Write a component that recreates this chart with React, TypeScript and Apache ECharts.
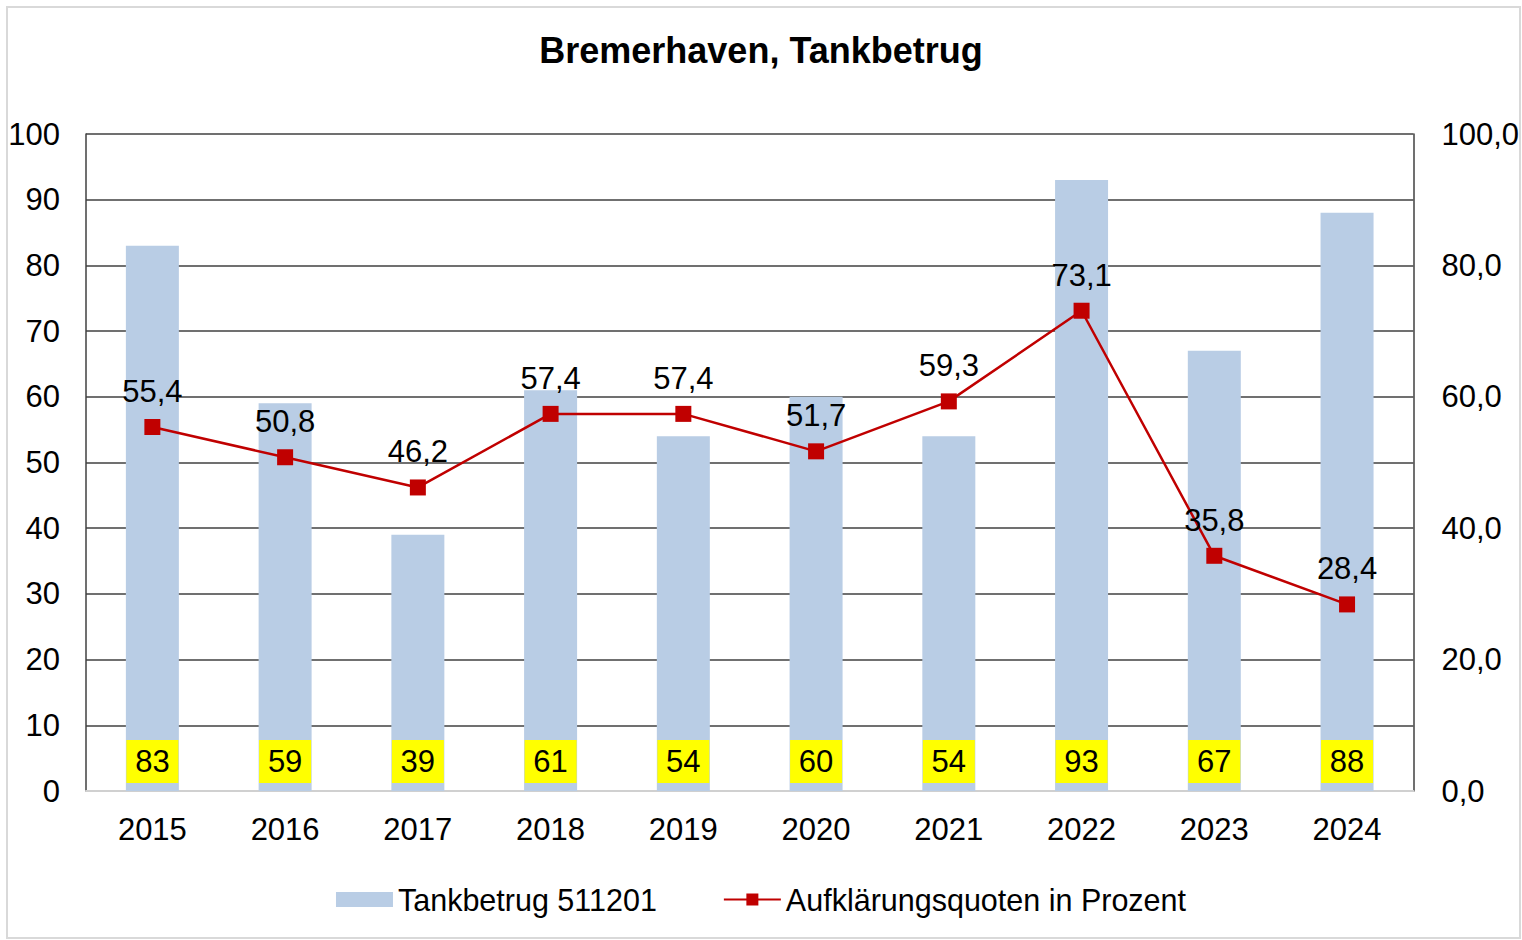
import React, { useEffect, useRef } from "react";
import * as echarts from "echarts";

const categories = ["2015", "2016", "2017", "2018", "2019", "2020", "2021", "2022", "2023", "2024"];
const cases = [83, 59, 39, 61, 54, 60, 54, 93, 67, 88];
const clearance = [55.4, 50.8, 46.2, 57.4, 57.4, 51.7, 59.3, 73.1, 35.8, 28.4];
const barName = "Tankbetrug 511201";
const lineName = "Aufklärungsquoten in Prozent";
const titleText = "Bremerhaven, Tankbetrug";

const FONT = "'Liberation Sans', Arial, sans-serif";
const FS = 31;
const fmt = (v: number) => v.toFixed(1).replace(".", ",");

export default function App() {
  const ref = useRef<HTMLDivElement>(null);
  useEffect(() => {
    if (!ref.current) return;
    const chart = echarts.init(ref.current, null, { renderer: "svg" });
    chart.setOption({
      animation: false,
      backgroundColor: "#ffffff",
      textStyle: { fontFamily: FONT },
      title: {
        text: titleText,
        left: "center",
        top: 27,
        textStyle: { fontFamily: FONT, fontSize: 36, fontWeight: "bold", color: "#000" },
      },
      graphic: [
        {
          type: "rect",
          shape: { x: 7, y: 7, width: 1513, height: 931 },
          style: { fill: "none", stroke: "#d9d9d9", lineWidth: 2 },
          silent: true,
        },
      ],
      legend: {
        bottom: 20,
        left: "center",
        itemGap: 66,
        itemWidth: 57,
        itemHeight: 15,
        textStyle: { fontFamily: FONT, fontSize: 30.5, color: "#000" },
        data: [
          { name: barName, icon: "rect" },
          { name: lineName },
        ],
      },
      grid: { left: 86, right: 108, top: 134, bottom: 149, containLabel: false },
      xAxis: {
        type: "category",
        data: categories,
        axisLine: { show: true, lineStyle: { color: "#d0d0d0", width: 2 } },
        axisTick: { show: false },
        axisLabel: { fontFamily: FONT, fontSize: FS, color: "#000", margin: 23 },
      },
      yAxis: [
        {
          type: "value",
          min: 0,
          max: 100,
          interval: 10,
          axisLine: { show: true, lineStyle: { color: "#404040", width: 1.5 } },
          axisTick: { show: false },
          splitLine: { show: true, lineStyle: { color: "#404040", width: 1.5 } },
          axisLabel: { fontFamily: FONT, fontSize: FS, color: "#000", margin: 26 },
        },
        {
          type: "value",
          min: 0,
          max: 100,
          interval: 20,
          position: "right",
          axisLine: { show: true, lineStyle: { color: "#404040", width: 1.5 } },
          axisTick: { show: false },
          splitLine: { show: false },
          axisLabel: {
            fontFamily: FONT,
            fontSize: FS,
            color: "#000",
            margin: 28,
            formatter: (v: number) => fmt(v),
          },
        },
      ],
      series: [
        {
          name: barName,
          type: "bar",
          data: cases,
          barWidth: 53,
          itemStyle: { color: "#b9cde5" },
          label: {
            show: true,
            position: "insideBottom",
            distance: 8,
            backgroundColor: "#ffff00",
            width: 52,
            height: 43,
            lineHeight: 43,
            align: "center",
            fontFamily: FONT,
            fontSize: FS,
            color: "#000",
          },
          z: 1,
        },
        {
          name: lineName,
          type: "line",
          yAxisIndex: 1,
          data: clearance,
          symbol: "rect",
          symbolSize: 16,
          lineStyle: { color: "#c00000", width: 2.5 },
          itemStyle: { color: "#c00000" },
          label: {
            show: true,
            position: "top",
            distance: 12,
            fontFamily: FONT,
            fontSize: FS,
            color: "#000",
            formatter: (p: any) => fmt(p.value),
          },
          z: 3,
        },
      ],
    });
    return () => chart.dispose();
  }, []);
  return (
    <div
      ref={ref}
      style={{ position: "fixed", left: 0, top: 0, width: 1522, height: 940, background: "#fff" }}
    />
  );
}
